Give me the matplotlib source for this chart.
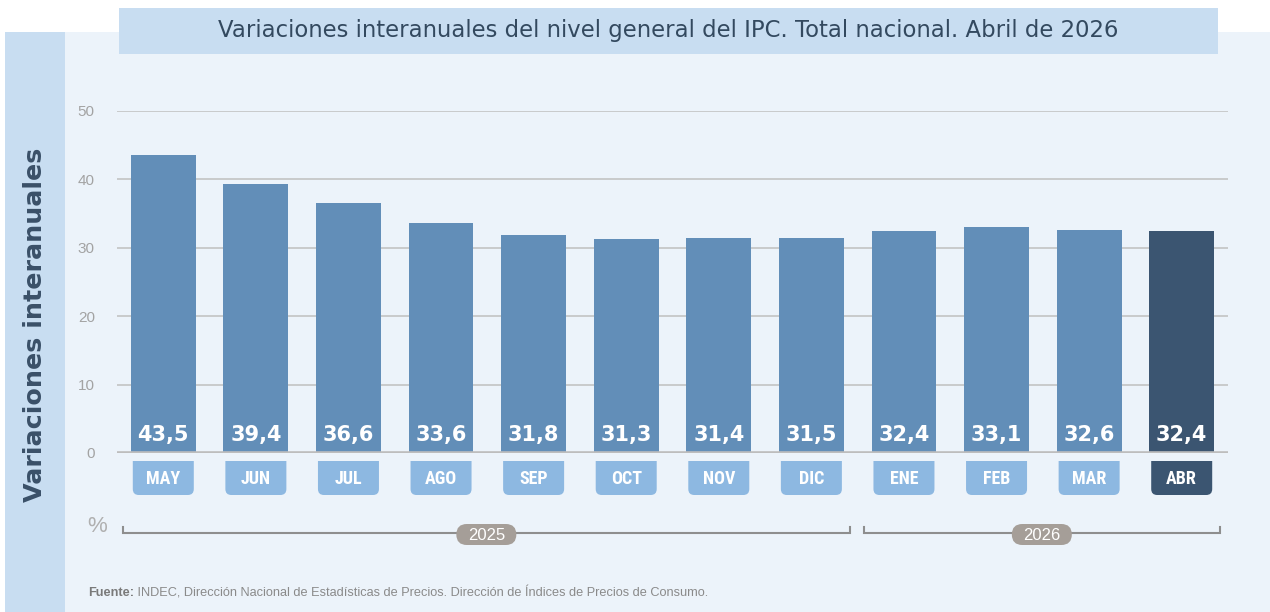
import matplotlib
matplotlib.use("Agg")
import matplotlib.pyplot as plt
from matplotlib.path import Path
from matplotlib.patches import PathPatch, FancyBboxPatch, Rectangle
from matplotlib import font_manager

# ---------------- data ----------------
months = ["MAY", "JUN", "JUL", "AGO", "SEP", "OCT", "NOV", "DIC", "ENE", "FEB", "MAR", "ABR"]
values = [43.5, 39.4, 36.6, 33.6, 31.8, 31.3, 31.4, 31.5, 32.4, 33.1, 32.6, 32.4]
value_labels = ["43,5", "39,4", "36,6", "33,6", "31,8", "31,3", "31,4", "31,5", "32,4", "33,1", "32,6", "32,4"]
years = ["2025", "2026"]
year_groups = [(0, 7), (8, 11)]
yticks = [0, 10, 20, 30, 40, 50]
title = "Variaciones interanuales del nivel general del IPC. Total nacional. Abril de 2026"
ylabel = "Variaciones interanuales"
source_bold = "Fuente:"
source_text = " INDEC, Dirección Nacional de Estadísticas de Precios. Dirección de Índices de Precios de Consumo."

# ---------------- style ----------------
W, H = 1270, 612
BAR = "#628EB8"
BAR_HL = "#3B5571"
TAG = "#8DB8E1"
PANEL = "#ECF3FA"
STRIP = "#C8DDF1"
TITLE_C = "#33495F"
PILL = "#A59E98"

avail = {f.name for f in font_manager.fontManager.ttflist}
narrow = "Roboto"
for cand in ["Roboto Condensed", "Liberation Sans Narrow", "DejaVu Sans Condensed"]:
    if cand in avail:
        narrow = cand
        break

fig = plt.figure(figsize=(W / 100, H / 100), dpi=100, facecolor="white")

# background overlay axes in pixel coordinates (y downward)
bg = fig.add_axes([0, 0, 1, 1], zorder=0)
bg.set_xlim(0, W)
bg.set_ylim(H, 0)
bg.axis("off")

bg.add_patch(Rectangle((65, 32), W - 65, H - 32, color=PANEL, lw=0))
bg.add_patch(Rectangle((5, 32), 60, H - 32, color=STRIP, lw=0))
bg.add_patch(Rectangle((119, 8), 1218 - 119, 46, color=STRIP, lw=0))
bg.text(668, 31, title, ha="center", va="center", fontsize=16.4, color=TITLE_C,
        family="DejaVu Sans")
bg.text(35, 325, ylabel, ha="center", va="center", rotation=90, fontsize=18.3,
        fontweight="bold", color="#3A5068", family="DejaVu Sans")

# main axes
x0, x1 = 117, 1228
y_top, y_zero = 111, 453
ax = fig.add_axes([x0 / W, (H - y_zero) / H, (x1 - x0) / W, (y_zero - y_top) / H], zorder=2)
ax.patch.set_alpha(0)
xs = list(range(len(months)))
colors = [BAR] * (len(months) - 1) + [BAR_HL]
ax.bar(xs, values, width=0.70, color=colors, zorder=3)
ax.set_xlim(-0.5, len(months) - 0.5)
ax.set_ylim(0, 50)
ax.set_yticks(yticks)
ax.set_yticklabels([str(t) for t in yticks], color="#A3A3A3", fontsize=11, family="Liberation Sans")
ax.tick_params(axis="y", length=0, pad=16)
ax.set_xticks([])
for s in ax.spines.values():
    s.set_visible(False)
for t in yticks[1:]:
    ax.axhline(t, color="#C3C3C3", lw=1.2, zorder=1)
ax.axhline(0, color="#BDBDBD", lw=2.6, zorder=4)

for i, (v, lab) in enumerate(zip(values, value_labels)):
    ax.text(i, 2.7, lab, ha="center", va="center", color="white", fontsize=15,
            fontweight="bold", family="DejaVu Sans", zorder=5)

fig.canvas.draw()

def px_x(xd):
    return ax.transData.transform((xd, 0))[0]

def bottom_round_rect(xl, xr, yt, yb, r):
    verts = [(xl, yt), (xr, yt), (xr, yb - r), (xr, yb), (xr - r, yb),
             (xl + r, yb), (xl, yb), (xl, yb - r), (xl, yt)]
    codes = [Path.MOVETO, Path.LINETO, Path.LINETO, Path.CURVE3, Path.CURVE3,
             Path.LINETO, Path.CURVE3, Path.CURVE3, Path.CLOSEPOLY]
    return Path(verts, codes)

for i, m in enumerate(months):
    cx = px_x(i)
    c = BAR_HL if i == len(months) - 1 else TAG
    bg.add_patch(PathPatch(bottom_round_rect(cx - 30.5, cx + 30.5, 461, 495, 6),
                           facecolor=c, edgecolor="none"))
    bg.text(cx, 479, m, ha="center", va="center", color="white", fontsize=13,
            family=narrow, fontweight="bold")

# year brackets
for (a, b), yr in zip(year_groups, years):
    xl = px_x(a - 0.5) + 6
    xr = px_x(b + 0.5) - 8
    bg.plot([xl, xl, xr, xr], [527, 533, 533, 527], color="#8E8E8E", lw=1.5,
            solid_joinstyle="miter")
    cx = (xl + xr) / 2
    bg.add_patch(FancyBboxPatch((cx - 30, 524), 60, 21,
                                boxstyle="round,pad=0,rounding_size=10.5",
                                facecolor=PILL, edgecolor="none", zorder=3))
    bg.text(cx, 535, yr, ha="center", va="center", color="white", fontsize=12,
            family="Liberation Sans", zorder=4)

bg.text(97, 526, "%", ha="center", va="center", color="#B0B0B0", fontsize=16,
        family="Liberation Sans")

t1 = bg.text(88, 593, source_bold, ha="left", va="center", color="#7A7A7A",
             fontsize=9.15, fontweight="bold", family="Liberation Sans")
fig.canvas.draw()
bb = t1.get_window_extent()
xstart = bg.transData.inverted().transform((bb.x1, 0))[0]
bg.text(xstart, 593, source_text, ha="left", va="center", color="#8A8A8A",
        fontsize=9.15, family="Liberation Sans")

fig.savefig("out.png", dpi=100, facecolor="white")
